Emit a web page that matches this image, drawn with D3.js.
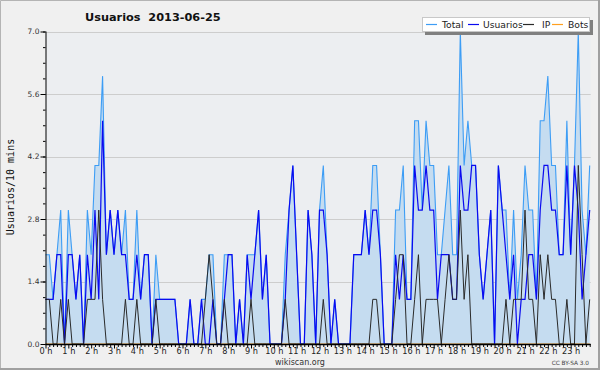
<!DOCTYPE html>
<html><head><meta charset="utf-8">
<script src="https://cdn.jsdelivr.net/npm/d3@7"></script>
<style>body{margin:0;background:#fff}svg{display:block}</style>
</head><body><svg id="c" width="600" height="370"></svg>
<script>
const hourLabels = ["0 h","1 h","2 h","3 h","4 h","5 h","6 h","7 h","8 h","9 h","10 h","11 h","12 h","13 h","14 h","15 h","16 h","17 h","18 h","19 h","20 h","21 h","22 h","23 h"];
const yTicks = [0.0, 1.4, 2.8, 4.2, 5.6, 7.0];
const seriesNames = ["Total", "Usuarios", "IP", "Bots"];

const total = [
 2,2,1,2,3,0,3,2,1,2,0,3,
 2,4,4,6,2,3,2,3,2,3,1,1,
 3,1,2,2,0,2,1,1,1,1,1,0,
 0,0,1,0,0,1,1,2,2,0,0,2,
 2,2,0,1,0,2,2,2,3,1,2,0,
 0,0,0,2,3,4,2,0,0,3,2,0,
 3,4,2,0,1,0,0,0,0,2,2,2,
 3,2,4,4,2,0,0,0,3,3,4,1,
 1,5,5,3,5,4,4,2,2,3,4,2,
 2,7,4,5,4,4,2,1,2,3,0,4,
 3,3,1,3,1,2,4,3,3,1,5,5,
 6,4,4,2,2,5,2,4,7,3,2,4];
const usuarios = [
 1,1,1,2,2,0,2,2,1,2,0,2,
 1,3,1,5,2,3,2,3,2,2,1,1,
 2,1,2,2,0,1,1,1,1,1,1,0,
 0,0,1,0,0,1,0,0,1,0,0,1,
 2,2,0,1,0,2,1,2,3,1,2,0,
 0,0,0,1,3,4,2,0,0,3,2,0,
 3,3,2,0,1,0,0,0,0,2,2,2,
 3,2,3,3,2,0,0,0,2,1,2,1,
 1,4,3,3,4,3,3,1,2,2,2,1,
 1,4,3,3,4,4,2,1,2,3,0,4,
 3,2,1,2,0,1,1,2,2,1,3,4,
 4,3,3,2,2,4,2,4,3,1,2,3];
const ip = [
 1,1,0,0,1,0,1,0,0,0,0,1,
 1,1,3,1,0,0,0,0,0,1,0,0,
 1,0,0,0,0,1,0,0,0,0,0,0,
 0,0,0,0,0,0,1,2,1,0,0,1,
 0,0,0,0,0,0,1,0,0,0,0,0,
 0,0,0,1,0,0,0,0,0,0,0,0,
 0,1,0,0,0,0,0,0,0,0,0,0,
 0,0,1,1,0,0,0,0,1,2,2,0,
 0,1,2,0,1,1,1,1,0,1,2,1,
 1,3,1,2,0,0,0,0,0,0,0,0,
 0,1,0,1,1,1,3,1,1,0,2,1,
 2,1,1,0,0,1,0,0,4,2,0,1];
const bots = [
 0,0,0,0,0,0,0,0,0,0,0,0,
 0,0,0,0,0,0,0,0,0,0,0,0,
 0,0,0,0,0,0,0,0,0,0,0,0,
 0,0,0,0,0,0,0,0,0,0,0,0,
 0,0,0,0,0,0,0,0,0,0,0,0,
 0,0,0,0,0,0,0,0,0,0,0,0,
 0,0,0,0,0,0,0,0,0,0,0,0,
 0,0,0,0,0,0,0,0,0,0,0,0,
 0,0,0,0,0,0,0,0,0,0,0,0,
 0,0,0,0,0,0,0,0,0,0,0,0,
 0,0,0,0,0,0,0,0,0,0,0,0,
 0,0,0,0,0,0,0,0,0,0,0,0];

const colors = {Total:"#3d9df5", Usuarios:"#0a0af0", IP:"#2a2a2a", Bots:"#ffa020"};

const svg = d3.select("#c");
const W = 600, H = 370;
const L = 45.5, R = 589.7, T = 31.5, B = 344;

svg.append("rect").attr("x",0).attr("y",0).attr("width",W).attr("height",H).attr("fill","#f0f0f0");
// frame: thin top/left, thicker right/bottom
svg.append("path").attr("d",`M0.5,${H}V0.5H${W}`).attr("fill","none").attr("stroke","#b4b4b4").attr("stroke-width",1);
svg.append("path").attr("d",`M0,${H-1}H${W-1}V0`).attr("fill","none").attr("stroke","#a0a0a0").attr("stroke-width",2);

const x = d3.scaleLinear().domain([0, total.length-1]).range([L, R]);
const y = d3.scaleLinear().domain([0, 7]).range([B, T]);

// plot background
svg.append("rect").attr("x",L).attr("y",T).attr("width",R-L+1).attr("height",B-T).attr("fill","#eceef1");

// grid
svg.append("g").selectAll("line").data(yTicks.filter(d=>d>0)).join("line")
  .attr("x1",L).attr("x2",R+1).attr("y1",d=>Math.round(y(d))+0.5).attr("y2",d=>Math.round(y(d))+0.5)
  .attr("stroke","#cdcdcd").attr("stroke-width",1);

// title
svg.append("text").attr("x",85).attr("y",21).text("Usuarios  2013-06-25")
  .attr("font-family","DejaVu Sans").attr("font-weight","bold").attr("font-size",11.3)
  .attr("fill","#111").style("white-space","pre");

// area + lines
const idx = d3.range(total.length);
const area = d3.area().x(i=>x(i)).y0(B).y1(i=>y(total[i]));
svg.append("path").datum(idx).attr("d",area).attr("fill","#c5dcf0");

const mkLine = arr => d3.line().x(i=>x(i)).y(i=>y(arr[i]));
svg.append("path").datum(idx).attr("d",mkLine(bots)).attr("fill","none").attr("stroke",colors.Bots).attr("stroke-width",1);
svg.append("path").datum(idx).attr("d",mkLine(total)).attr("fill","none").attr("stroke",colors.Total).attr("stroke-width",1.1);
svg.append("path").datum(idx).attr("d",mkLine(usuarios)).attr("fill","none").attr("stroke",colors.Usuarios).attr("stroke-width",1.2);
svg.append("path").datum(idx).attr("d",mkLine(ip)).attr("fill","none").attr("stroke",colors.IP).attr("stroke-width",1);

// y axis
const yMinor = d3.range(0, 21).map(k => k*0.35);
const yAxisMinor = d3.axisLeft(y).tickValues(yMinor).tickSize(2.5).tickFormat("");
const gYm = svg.append("g").attr("transform",`translate(${L},0)`).call(yAxisMinor);
gYm.select(".domain").remove();
gYm.selectAll("line").attr("stroke","#000");
const yAxis = d3.axisLeft(y).tickValues(yTicks).tickSize(5).tickPadding(1).tickFormat(d3.format(".1f"));
const gY = svg.append("g").attr("transform",`translate(${L},0)`).call(yAxis);
gY.select(".domain").attr("d",`M0.5,${T}V${B}`).attr("stroke","#000");
gY.selectAll("text").attr("font-family","DejaVu Sans").attr("font-size",7.5).attr("fill","#333");

// x axis
const xAxis = d3.axisBottom(x).tickValues(idx).tickSize(3).tickPadding(2)
  .tickFormat(i => i % 6 === 0 ? hourLabels[i/6] : "");
const gX = svg.append("g").attr("transform",`translate(0,${B})`).call(xAxis);
gX.select(".domain").attr("d",`M${L},0.5H${R+1}`).attr("stroke","#000").attr("stroke-width",1.3);
gX.selectAll(".tick line").attr("stroke","#000").attr("y2", i => i % 6 === 0 ? 4.5 : 3);
gX.selectAll("text").attr("font-family","DejaVu Sans").attr("font-size",8.2).attr("fill","#222").attr("dy","0.62em");

// y label
svg.append("text").attr("transform","translate(14,187) rotate(-90)").attr("text-anchor","middle")
  .attr("font-family","DejaVu Sans Mono").attr("font-size",10).attr("fill","#111").text("Usuarios/10 mins");

// footer
svg.append("text").attr("x",300).attr("y",365).attr("text-anchor","middle")
  .attr("font-family","DejaVu Sans").attr("font-size",8).attr("fill","#333").text("wikiscan.org");
svg.append("text").attr("x",589).attr("y",365).attr("text-anchor","end")
  .attr("font-family","DejaVu Sans").attr("font-size",5.8).attr("fill","#444").text("CC BY-SA 3.0");

// legend
svg.append("rect").attr("x",425).attr("y",20).attr("width",168).attr("height",15).attr("fill","#808080");
svg.append("rect").attr("x",422.5).attr("y",17.5).attr("width",167).attr("height",14).attr("fill","#fff").attr("stroke","#c8c8c8");
const legX = [426, 468, 523, 552];
const legTX = [442, 483, 542, 568];
seriesNames.forEach((n,k) => {
  svg.append("line").attr("x1",legX[k]).attr("x2",legX[k]+11).attr("y1",24.5).attr("y2",24.5)
    .attr("stroke",colors[n]).attr("stroke-width",1.2);
  svg.append("text").attr("x",legTX[k]).attr("y",28).text(n)
    .attr("font-family","DejaVu Sans").attr("font-size",9.2).attr("fill","#222");
});
</script>
</body></html>
